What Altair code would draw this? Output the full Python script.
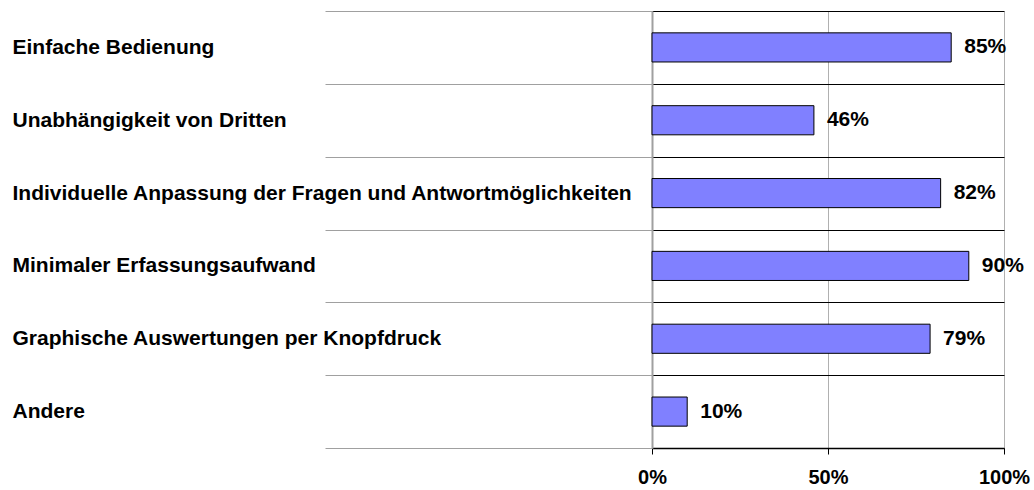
import altair as alt
import pandas as pd

categories = [
    "Einfache Bedienung",
    "Unabhängigkeit von Dritten",
    "Individuelle Anpassung der Fragen und Antwortmöglichkeiten",
    "Minimaler Erfassungsaufwand",
    "Graphische Auswertungen per Knopfdruck",
    "Andere",
]
values = [0.85, 0.46, 0.82, 0.90, 0.79, 0.10]
x_ticks = [0, 0.5, 1.0]

df = pd.DataFrame({"cat": categories, "val": values})
df["label"] = [f"{round(v*100)}%" for v in values]

FONT = "Liberation Sans"

y_enc = alt.Y(
    "cat:N",
    sort=None,
    scale=alt.Scale(paddingInner=0, paddingOuter=0),
    axis=alt.Axis(
        title=None,
        tickBand="extent",
        tickSize=327,
        tickColor="#a0a0a0",
        tickWidth=1,
        domainColor="#a0a0a0",
        domainWidth=2,
        grid=True,
        gridColor="#000000",
        gridWidth=1,
        labelAlign="left",
        labelPadding=313,
        labelFont=FONT,
        labelFontSize=21,
        labelFontWeight="bold",
        labelColor="#000000",
        labelLimit=700,
    ),
)

x_enc = alt.X(
    "val:Q",
    scale=alt.Scale(domain=[0, 1], nice=False),
    axis=alt.Axis(
        title=None,
        values=x_ticks,
        format=".0%",
        grid=True,
        gridColor="#b0b0b0",
        gridWidth=1,
        domainColor="#000000",
        domainWidth=1.5,
        tickColor="#000000",
        tickSize=6,
        labelPadding=13,
        labelFont=FONT,
        labelFontSize=20,
        labelFontWeight="bold",
        labelColor="#000000",
        labelFlush=False,
    ),
)

bars = alt.Chart(df).mark_bar(
    color="#8080FF",
    stroke="#000000",
    strokeWidth=1,
    height=alt.RelativeBandSize(band=0.4),
).encode(x=x_enc, y=y_enc)

texts = alt.Chart(df).mark_text(
    align="left",
    baseline="middle",
    dx=13,
    font=FONT,
    fontSize=21,
    fontWeight="bold",
    color="#000000",
).encode(x="val:Q", y=alt.Y("cat:N", sort=None), text="label:N")

chart = (
    alt.layer(bars, texts)
    .properties(
        width=352,
        height=437,
        autosize=alt.AutoSizeParams(type="none"),
        padding={"left": 652, "top": 11, "right": 30, "bottom": 42},
        background="white",
    )
    .configure_view(stroke=None)
)

chart.save("out.html", embed_options={"renderer": "svg", "actions": False})
